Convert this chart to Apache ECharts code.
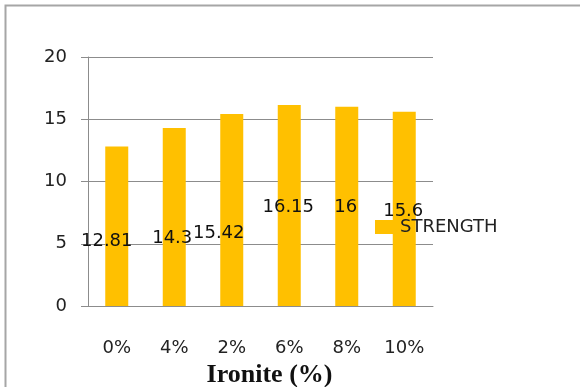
<!DOCTYPE html>
<html>
<head>
<meta charset="utf-8">
<script src="https://cdn.jsdelivr.net/npm/echarts@6/dist/echarts.min.js"></script>
<style>html,body{margin:0;padding:0;background:#fff}#c{width:580px;height:387px}</style>
</head>
<body>
<div id="c"></div>
<script>
const categories = ['0%', '4%', '2%', '6%', '8%', '10%'];
const strength = [12.81, 14.3, 15.42, 16.15, 16, 15.6];
const yTicks = [0, 5, 10, 15, 20];
const seriesName = 'STRENGTH';
const xTitle = 'Ironite (%)';

// label placement styling (pixel offsets from bar centre)
const labelOffsets = [[-10, 15], [-2, 21], [-13, 23], [-1, 2], [-1, 1], [-1, 2]];

const chart = echarts.init(document.getElementById('c'), null, {renderer: 'canvas'});
const font = 'DejaVu Sans';
chart.setOption({
  animation: false,
  backgroundColor: '#fff',
  graphic: [{
    type: 'rect', silent: true,
    shape: {x: 5.5, y: 5.5, width: 700, height: 500},
    style: {fill: 'none', stroke: '#a6a6a6', lineWidth: 2}
  }],
  grid: {left: 88, top: 57, right: 147, bottom: 81, containLabel: false, outerBoundsMode: 'none'},
  legend: {
    left: 375, top: 218, padding: 0,
    itemWidth: 20, itemHeight: 14, icon: 'path://M0,0H20V14H0Z',
    textStyle: {fontFamily: font, fontSize: 18, color: '#222'},
    data: [seriesName]
  },
  xAxis: {
    type: 'category', data: categories,
    axisLine: {lineStyle: {color: '#8c8c8c', width: 1}},
    axisTick: {length: 7, lineStyle: {color: '#8c8c8c'}},
    axisLabel: {fontFamily: font, fontSize: 18, color: '#222', margin: 33},
    name: xTitle, nameLocation: 'middle', nameGap: 43,
    nameTextStyle: {fontFamily: 'Liberation Serif', fontWeight: 'bold', fontSize: 26, color: '#111', padding: [0, 0, 0, 18]}
  },
  yAxis: {
    type: 'value', min: yTicks[0], max: yTicks[yTicks.length - 1], interval: yTicks[1] - yTicks[0],
    axisLine: {show: true, lineStyle: {color: '#8c8c8c'}},
    axisTick: {show: true, length: 7, lineStyle: {color: '#8c8c8c'}},
    splitLine: {lineStyle: {color: '#8c8c8c', width: 1}},
    axisLabel: {fontFamily: font, fontSize: 18, color: '#222', margin: 21}
  },
  series: [{
    name: seriesName, type: 'bar', barWidth: '40%',
    itemStyle: {color: '#FFC000'},
    data: strength.map((v, i) => ({
      value: v,
      label: {show: true, position: 'inside', offset: labelOffsets[i],
        fontFamily: font, fontSize: 18, color: '#111', formatter: String(v)}
    }))
  }]
});
</script>
</body>
</html>
